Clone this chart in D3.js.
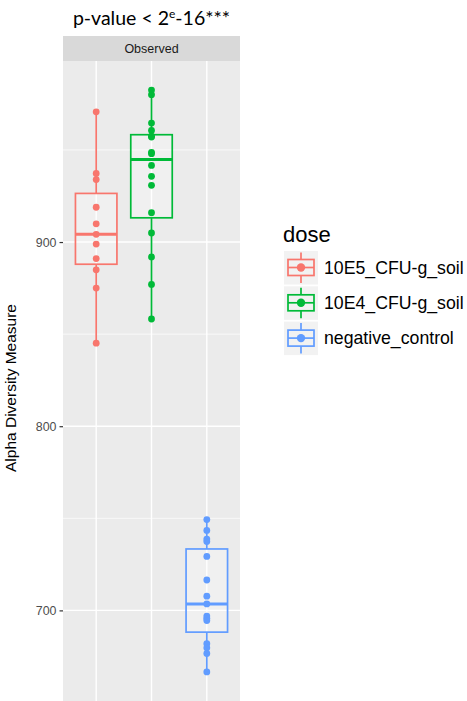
<!DOCTYPE html>
<html>
<head>
<meta charset="utf-8">
<script src="https://cdn.jsdelivr.net/npm/d3@7"></script>
<style>
  body { margin: 0; background: #fff; }
  svg { display: block; }
</style>
</head>
<body>
<svg id="chart" width="467" height="701"></svg>
<script>
// groups in plotting order, with the ggplot hue colours
var doses = ["10E5_CFU-g_soil", "10E4_CFU-g_soil", "negative_control"];
var colors = ["#F8766D", "#00BA38", "#619CFF"];

// observed richness per sample
var obs10E5 = [970.7, 937.2, 933.9, 918.9, 909.9, 904.2, 898.9, 891.0, 884.9, 875.0, 845.1];
var obs10E4 = [982.5, 980.0, 964.6, 960.6, 957.5, 957.0, 948.7, 948.0, 941.6, 935.7, 930.8, 915.9, 904.9, 891.9, 877.0, 858.2];
var obsNeg = [749.3, 743.4, 738.7, 737.4, 729.3, 716.5, 707.7, 703.5, 696.9, 695.7, 694.5, 681.9, 679.7, 676.6, 666.6];

var yTicks = [700, 800, 900];
var yMinor = [650, 750, 850, 950];
var stripLabel = "Observed";
var yLabel = "Alpha Diversity Measure";
var legendTitle = "dose";

var groups = [obs10E5, obs10E4, obsNeg];

var svg = d3.select("#chart");
var panel = {left: 63, right: 240, top: 61, bottom: 701};
var font = "'Liberation Sans', Arial, sans-serif";

// 5% expansion like ggplot
var all = d3.merge(groups);
var ext = d3.extent(all);
var pad = (ext[1] - ext[0]) * 0.05;

var y = d3.scaleLinear()
    .domain([ext[0] - pad, ext[1] + pad])
    .range([panel.bottom, panel.top]);

var x = d3.scalePoint()
    .domain(doses)
    .range([panel.left, panel.right])
    .padding(0.6);

// title (added afterwards, different font)
var title = svg.append("text")
    .attr("x", (panel.left + panel.right) / 2)
    .attr("y", 25)
    .attr("text-anchor", "middle")
    .style("font-family", "Lato, 'Open Sans', sans-serif")
    .style("font-size", "19.5px")
    .attr("fill", "#000");
title.append("tspan").text("p-value < 2");
title.append("tspan").attr("dy", -7).style("font-size", "12px").text("e");
title.append("tspan").attr("dy", 7).text("-16***");

// strip
svg.append("rect")
    .attr("x", panel.left).attr("y", 36)
    .attr("width", panel.right - panel.left).attr("height", panel.top - 36)
    .attr("fill", "#D9D9D9");
svg.append("text")
    .attr("x", (panel.left + panel.right) / 2)
    .attr("y", 48.5)
    .attr("dy", "0.35em")
    .attr("text-anchor", "middle")
    .style("font-family", font)
    .style("font-size", "12.5px")
    .attr("fill", "#1A1A1A")
    .text(stripLabel);

// panel background + grid
svg.append("rect")
    .attr("x", panel.left).attr("y", panel.top)
    .attr("width", panel.right - panel.left).attr("height", panel.bottom - panel.top)
    .attr("fill", "#EBEBEB");

var grid = svg.append("g");
grid.selectAll(".minor")
    .data(yMinor.filter(function(v) { return y(v) > panel.top && y(v) < panel.bottom; }))
    .enter().append("line")
    .attr("x1", panel.left).attr("x2", panel.right)
    .attr("y1", function(d) { return y(d); }).attr("y2", function(d) { return y(d); })
    .attr("stroke", "#fff").attr("stroke-width", 0.7);
grid.selectAll(".major")
    .data(yTicks)
    .enter().append("line")
    .attr("x1", panel.left).attr("x2", panel.right)
    .attr("y1", function(d) { return y(d); }).attr("y2", function(d) { return y(d); })
    .attr("stroke", "#fff").attr("stroke-width", 1.4);
grid.selectAll(".vmajor")
    .data(doses)
    .enter().append("line")
    .attr("y1", panel.top).attr("y2", panel.bottom)
    .attr("x1", function(d) { return x(d); }).attr("x2", function(d) { return x(d); })
    .attr("stroke", "#fff").attr("stroke-width", 1.4);

// y axis
var yAxis = svg.append("g")
    .attr("transform", "translate(" + panel.left + ",0)")
    .call(d3.axisLeft(y).tickValues(yTicks).tickSize(3.5).tickPadding(3));
yAxis.select(".domain").remove();
yAxis.selectAll("line").attr("stroke", "#333").attr("stroke-width", 1.2);
yAxis.selectAll("text")
    .style("font-family", font)
    .style("font-size", "12.4px")
    .attr("fill", "#4D4D4D");

svg.append("text")
    .attr("transform", "translate(16,388) rotate(-90)")
    .attr("text-anchor", "middle")
    .style("font-family", font)
    .style("font-size", "15.5px")
    .attr("fill", "#000")
    .text(yLabel);

// boxplots
var bw = x.step() * 0.75;

function boxStats(vals) {
    var s = vals.slice().sort(d3.ascending);
    var q1 = d3.quantile(s, 0.25), med = d3.quantile(s, 0.5), q3 = d3.quantile(s, 0.75);
    var iqr = q3 - q1;
    var lo = d3.min(s.filter(function(v) { return v >= q1 - 1.5 * iqr; }));
    var hi = d3.max(s.filter(function(v) { return v <= q3 + 1.5 * iqr; }));
    return {q1: q1, med: med, q3: q3, lo: lo, hi: hi};
}

groups.forEach(function(vals, i) {
    var st = boxStats(vals);
    var cx = x(doses[i]);
    var g = svg.append("g").attr("stroke", colors[i]);
    g.append("line")
        .attr("x1", cx).attr("x2", cx)
        .attr("y1", y(st.hi)).attr("y2", y(st.q3))
        .attr("stroke-width", 1.7);
    g.append("line")
        .attr("x1", cx).attr("x2", cx)
        .attr("y1", y(st.q1)).attr("y2", y(st.lo))
        .attr("stroke-width", 1.7);
    g.append("rect")
        .attr("x", cx - bw / 2).attr("y", y(st.q3))
        .attr("width", bw).attr("height", y(st.q1) - y(st.q3))
        .attr("fill", "#fff").attr("fill-opacity", 0.25)
        .attr("stroke-width", 1.7);
    g.append("line")
        .attr("x1", cx - bw / 2).attr("x2", cx + bw / 2)
        .attr("y1", y(st.med)).attr("y2", y(st.med))
        .attr("stroke-width", 3);

    svg.append("g").selectAll("circle")
        .data(vals)
        .enter().append("circle")
        .attr("cx", cx)
        .attr("cy", function(d) { return y(d); })
        .attr("r", 3.4)
        .attr("fill", colors[i]);
});

// legend
var lg = svg.append("g").attr("transform", "translate(284,0)");
lg.append("text")
    .attr("x", -1).attr("y", 242)
    .style("font-family", font)
    .style("font-size", "22px")
    .attr("fill", "#000")
    .text(legendTitle);

var key = lg.selectAll(".key")
    .data(doses)
    .enter().append("g")
    .attr("transform", function(d, i) { return "translate(0," + (251 + i * 35.3) + ")"; });
key.append("rect")
    .attr("width", 34).attr("height", 33.5)
    .attr("fill", "#F2F2F2");
key.append("line")
    .attr("x1", 17).attr("x2", 17).attr("y1", 1.5).attr("y2", 32)
    .attr("stroke", function(d, i) { return colors[i]; })
    .attr("stroke-width", 1.7);
key.append("rect")
    .attr("x", 4).attr("y", 8.5).attr("width", 26).attr("height", 16)
    .attr("fill", "#F2F2F2")
    .attr("stroke", function(d, i) { return colors[i]; })
    .attr("stroke-width", 1.7);
key.append("line")
    .attr("x1", 4).attr("x2", 30).attr("y1", 16.5).attr("y2", 16.5)
    .attr("stroke", function(d, i) { return colors[i]; })
    .attr("stroke-width", 1.7);
key.append("circle")
    .attr("cx", 17).attr("cy", 16.5).attr("r", 4.2)
    .attr("fill", function(d, i) { return colors[i]; });
key.append("text")
    .attr("x", 40).attr("y", 16.5).attr("dy", "0.36em")
    .style("font-family", font)
    .style("font-size", "17.7px")
    .attr("fill", "#000")
    .text(function(d) { return d; });
</script>
</body>
</html>
